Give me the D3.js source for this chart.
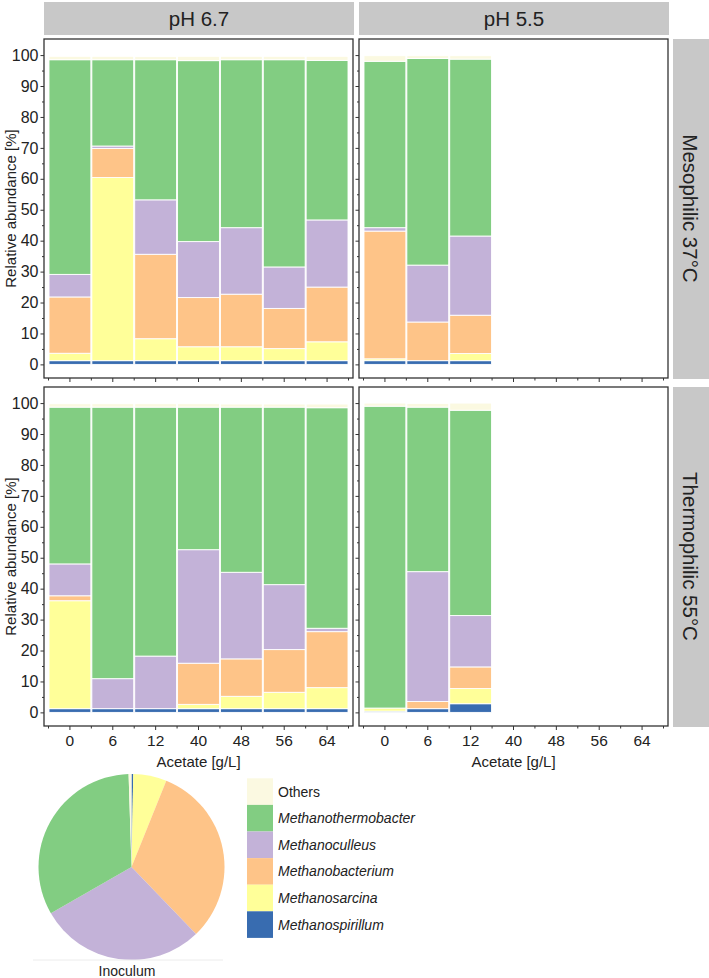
<!DOCTYPE html>
<html><head><meta charset="utf-8">
<script src="https://cdn.jsdelivr.net/npm/d3@7/dist/d3.min.js"></script>
<style>
html,body{margin:0;padding:0;background:#fff;}
svg{display:block;font-family:"Liberation Sans",Arial,sans-serif;}
</style></head>
<body>
<script>
// ---- data ----
const acetate = ["0","6","12","40","48","56","64"];
const seriesNames = ["Methanospirillum","Methanosarcina","Methanobacterium","Methanoculleus","Methanothermobacter","Others"];
const seriesColors = ["#386cb0","#ffff99","#fec488","#c3b2d8","#82cd82","#fbf9e1"];
const legendOrder = ["Others","Methanothermobacter","Methanoculleus","Methanobacterium","Methanosarcina","Methanospirillum"];
const columnLabels = ["pH 6.7","pH 5.5"];
const rowLabels = ["Mesophilic 37°C","Thermophilic 55°C"];
const yTickValues = [0,10,20,30,40,50,60,70,80,90,100];

// values per panel: [series][bar], series order = seriesNames (bottom → top)
const meso67 = [
  [1.2,1.2,1.2,1.2,1.2,1.2,1.2],
  [2.4,59.2,7.1,4.5,4.5,3.9,6.1],
  [18.2,9.4,27.3,15.9,17.0,13.0,17.7],
  [7.3,0.8,17.6,18.1,21.5,13.4,21.7],
  [69.4,27.9,45.3,58.5,54.3,67.0,51.6],
  [1.1,1.1,1.0,1.4,1.1,1.1,1.3]
];
const meso55 = [
  [1.2,1.2,1.2],
  [0.6,0,2.3],
  [41.3,12.5,12.4],
  [1.1,18.4,25.6],
  [53.8,66.8,57.2],
  [1.8,0.9,1.1]
];
const thermo67 = [
  [1.2,1.2,1.2,1.2,1.2,1.2,1.2],
  [34.9,0,0,1.4,4.0,5.3,6.8],
  [1.6,0,0,13.3,12.1,13.8,18.1],
  [10.3,9.7,17.0,36.7,28.0,21.0,1.1],
  [50.7,87.8,80.5,46.1,53.4,57.4,71.3],
  [1.1,1.1,1.1,1.1,1.0,1.0,1.2]
];
const thermo55 = [
  [0.4,1.2,2.8],
  [1.0,0,4.9],
  [0,2.3,7.0],
  [0,42.0,16.6],
  [97.6,53.2,66.4],
  [1.0,1.2,2.3]
];
// inoculum pie, clockwise from 12 o'clock
const inoculumNames = ["Methanospirillum","Methanosarcina","Methanobacterium","Methanoculleus","Methanothermobacter","Others"];
const inoculumValues = [0.3,5.8,31.7,28.9,32.8,0.5];

// ---- layout ----
const W = 709, H = 978;
const svg = d3.select("body").append("svg").attr("width",W).attr("height",H);
const color = d3.scaleOrdinal().domain(seriesNames).range(seriesColors);

const colX = [44, 359], panelW = 309;
const rowY = [39, 387], panelH = 339;
const textCol = "#222";

function drawPanel(px, py, data, showYLabels, showXLabels){
  const g = svg.append("g").attr("transform",`translate(${px},${py})`);
  const x = d3.scaleBand().domain(acetate).range([4.5, panelW-4.5]).padding(0);
  const y = d3.scaleLinear().domain([-4.4,105.2]).range([panelH,0]);
  const nBars = data[0].length;
  const rows = d3.range(nBars).map(i=>{
    const r = {cat: acetate[i]};
    seriesNames.forEach((s,k)=> r[s] = data[k][i]);
    return r;
  });
  const stack = d3.stack().keys(seriesNames)(rows);
  g.selectAll("g.layer").data(stack).join("g").attr("class","layer")
    .attr("fill",d=>color(d.key))
    .selectAll("rect").data(d=>d).join("rect")
    .attr("x",d=>x(d.data.cat)+0.5)
    .attr("width",x.bandwidth()-1)
    .attr("y",d=>y(d[1]))
    .attr("height",d=>Math.max(0,y(d[0])-y(d[1])))
    .attr("stroke","#fff").attr("stroke-width",0.9);

  // frame
  g.append("rect").attr("x",0).attr("y",0).attr("width",panelW).attr("height",panelH)
    .attr("fill","none").attr("stroke","#333").attr("stroke-width",1.3);

  // y axis
  const ya = g.append("g").call(d3.axisLeft(y).tickValues(yTickValues).tickSize(3.5).tickPadding(2)
      .tickFormat(showYLabels? d3.format("d") : ()=>""));
  ya.select(".domain").remove();
  ya.selectAll("line").attr("stroke","#333");
  ya.selectAll("text").attr("font-size",16).attr("fill",textCol).attr("font-family","Liberation Sans, Arial, sans-serif");
  const yam = g.append("g").call(d3.axisLeft(y).tickValues(d3.range(5,100,10)).tickSize(2).tickFormat(()=>""));
  yam.select(".domain").remove();
  yam.selectAll("line").attr("stroke","#333");

  // x axis
  const xa = g.append("g").attr("transform",`translate(0,${panelH})`)
    .call(d3.axisBottom(x).tickSize(4).tickPadding(5).tickFormat(showXLabels? d=>d : ()=>""));
  xa.select(".domain").remove();
  xa.selectAll("line").attr("stroke","#333");
  xa.selectAll("text").attr("font-size",15.5).attr("fill",textCol).attr("font-family","Liberation Sans, Arial, sans-serif");
  const edges = acetate.map(c=>x(c)).concat([x(acetate[acetate.length-1])+x.bandwidth()]);
  g.append("g").selectAll("line").data(edges).join("line")
    .attr("x1",d=>d).attr("x2",d=>d).attr("y1",panelH).attr("y2",panelH+2.5)
    .attr("stroke","#333");
  return g;
}

drawPanel(colX[0], rowY[0], meso67, true, false);
drawPanel(colX[1], rowY[0], meso55, false, false);
drawPanel(colX[0], rowY[1], thermo67, true, true);
drawPanel(colX[1], rowY[1], thermo55, false, true);

// column strips
columnLabels.forEach((lab,i)=>{
  svg.append("rect").attr("x",colX[i]).attr("y",2).attr("width",panelW+1).attr("height",33).attr("fill","#c8c8c8");
  svg.append("text").attr("x",colX[i]+(panelW+1)/2).attr("y",26).attr("text-anchor","middle")
    .attr("font-size",20.5).attr("fill",textCol).text(lab);
});
// row strips
rowLabels.forEach((lab,i)=>{
  svg.append("rect").attr("x",673).attr("y",rowY[i]).attr("width",36).attr("height",panelH+1).attr("fill","#c8c8c8");
  const cy = rowY[i]+panelH/2;
  svg.append("text").attr("transform",`translate(682.5,${cy}) rotate(90)`).attr("text-anchor","middle")
    .attr("font-size",20.5).attr("fill",textCol).text(lab);
});

// axis titles
rowY.forEach(ry=>{
  svg.append("text").attr("transform",`translate(16,${ry+panelH/2}) rotate(-90)`).attr("text-anchor","middle")
    .attr("font-size",15).attr("fill",textCol).text("Relative abundance [%]");
});
colX.forEach(cx=>{
  svg.append("text").attr("x",cx+panelW/2).attr("y",767).attr("text-anchor","middle")
    .attr("font-size",15).attr("fill",textCol).text("Acetate [g/L]");
});

// inoculum pie
const pie = d3.pie().sort(null).value(d=>d.v).startAngle(0).endAngle(2*Math.PI);
const arc = d3.arc().innerRadius(0).outerRadius(93);
const pieData = pie(inoculumNames.map((n,i)=>({n, v: inoculumValues[i]})));
const pg = svg.append("g").attr("transform","translate(131.5,867)");
pg.selectAll("path").data(pieData).join("path").attr("d",arc).attr("fill",d=>color(d.data.n));
svg.append("line").attr("x1",33).attr("x2",223).attr("y1",960).attr("y2",960).attr("stroke","#ececec").attr("stroke-width",1);
svg.append("text").attr("x",127).attr("y",976).attr("text-anchor","middle").attr("font-size",14).attr("fill",textCol).text("Inoculum");

// legend
const lg = svg.append("g").attr("transform","translate(247,778.3)");
const step = 26.6;
legendOrder.forEach((n,i)=>{
  lg.append("rect").attr("x",0).attr("y",i*step).attr("width",26).attr("height",step).attr("fill",color(n));
  lg.append("text").attr("x",31).attr("y",i*step+step/2+5).attr("font-size",14).attr("fill",textCol)
    .attr("font-style", n==="Others" ? "normal" : "italic").text(n);
});
</script>
</body></html>
